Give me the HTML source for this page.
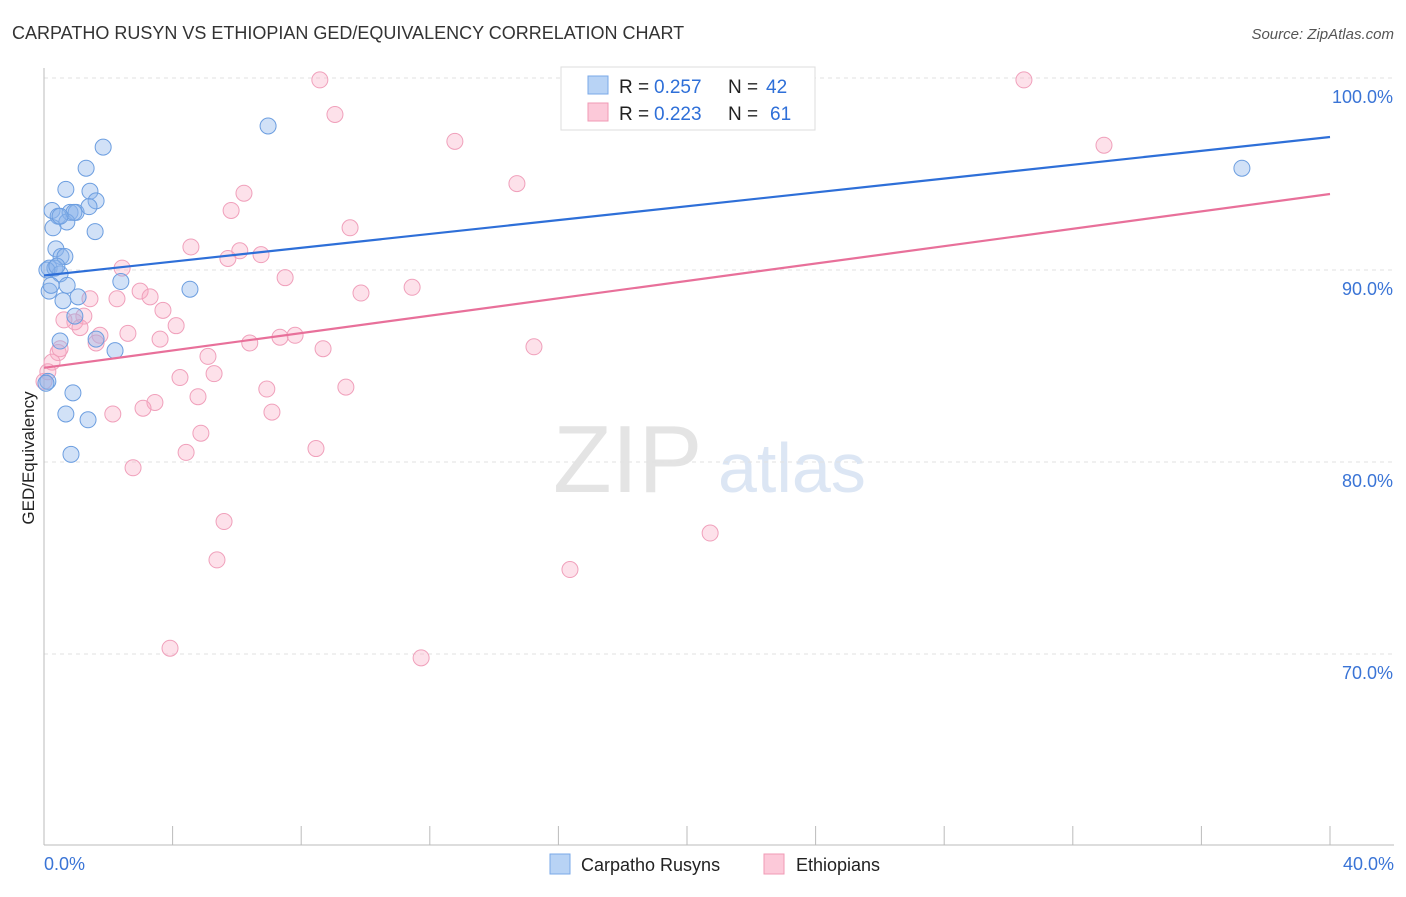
<!DOCTYPE html>
<html><head><meta charset="utf-8"><style>
body{margin:0;background:#fff;font-family:"Liberation Sans",sans-serif;}
svg text{font-family:"Liberation Sans",sans-serif;}
</style></head><body>
<svg width="1406" height="892" xmlns="http://www.w3.org/2000/svg">
<text x="12" y="39" font-size="18" fill="#333">CARPATHO RUSYN VS ETHIOPIAN GED/EQUIVALENCY CORRELATION CHART</text>
<text x="1394" y="39" font-size="15" fill="#555" text-anchor="end" font-style="italic">Source: ZipAtlas.com</text>
<text x="553" y="492" font-size="96" fill="#e4e4e4" font-family="Liberation Serif">ZIP</text>
<text x="718" y="492" font-size="70" fill="#dce6f4">atlas</text>
<g id="grid"></g>
<g id="axes"></g>
<g id="pts"></g>
<g id="lines"></g>
<text transform="translate(34,458) rotate(-90)" font-size="17" fill="#222" text-anchor="middle">GED/Equivalency</text>
<text x="44" y="870" font-size="18" fill="#3a74d6">0.0%</text>
<text x="1394" y="870" font-size="18" fill="#3a74d6" text-anchor="end">40.0%</text>
<g>
<rect x="561" y="67" width="254" height="63" fill="#fff" stroke="#ddd"/>
<rect x="588" y="76" width="20" height="18" fill="#b8d3f5" stroke="#7aa8e8"/>
<rect x="588" y="103" width="20" height="18" fill="#fcc9d9" stroke="#f09ab5"/>
<text x="619" y="93" font-size="19" fill="#222">R =</text>
<text x="654" y="93" font-size="19" fill="#2e6fd8">0.257</text>
<text x="728" y="93" font-size="19" fill="#222">N =</text>
<text x="766" y="93" font-size="19" fill="#2e6fd8">42</text>
<text x="619" y="120" font-size="19" fill="#222">R =</text>
<text x="654" y="120" font-size="19" fill="#2e6fd8">0.223</text>
<text x="728" y="120" font-size="19" fill="#222">N =</text>
<text x="770" y="120" font-size="19" fill="#2e6fd8">61</text>
</g>
<g>
<rect x="550" y="854" width="20" height="20" fill="#b8d3f5" stroke="#7aa8e8"/>
<text x="581" y="871" font-size="18" fill="#222">Carpatho Rusyns</text>
<rect x="764" y="854" width="20" height="20" fill="#fcc9d9" stroke="#f09ab5"/>
<text x="796" y="871" font-size="18" fill="#222">Ethiopians</text>
</g>
</svg>
<script>
const yTicks=[100,90,80,70];
const yTickLabels=["100.0%","90.0%","80.0%","70.0%"];
const blueX=[1.84,6.97,1.31,0.68,1.43,1.62,0.25,0.44,0.81,1.0,1.4,0.71,0.28,1.59,0.37,0.53,0.65,0.16,0.34,0.5,0.16,0.59,0.72,1.06,2.39,4.54,0.96,0.5,1.62,2.21,0.12,0.9,0.68,1.37,0.84,37.26,0.09,0.22,0.40,0.93,0.50,0.06];
const blueY=[96.4,97.5,95.3,94.2,94.1,93.6,93.1,92.8,93.0,93.0,93.3,92.5,92.2,92.0,91.1,90.7,90.7,90.1,90.1,89.8,88.9,88.4,89.2,88.6,89.4,89.0,87.6,86.3,86.4,85.8,84.2,83.6,82.5,82.2,80.4,95.3,90.0,89.2,90.2,93.0,92.8,84.1];
const pinkX=[8.58,30.48,9.05,12.78,32.97,14.71,6.22,5.82,9.52,4.57,6.09,6.75,5.72,2.43,7.5,2.99,3.3,9.86,11.45,1.43,2.27,3.7,1.24,0.96,0.62,4.11,1.12,1.74,2.61,3.61,1.62,6.4,7.34,7.81,8.68,15.24,0.44,0.25,5.1,4.23,5.29,6.93,9.39,3.45,3.08,4.79,2.14,7.09,4.88,4.42,8.46,2.77,5.6,20.72,5.38,16.36,3.92,11.73,0.12,0.0,0.50];
const pinkY=[99.9,99.9,98.1,96.7,96.5,94.5,94.0,93.1,92.2,91.2,91.0,90.8,90.6,90.1,89.6,88.9,88.6,88.8,89.1,88.5,88.5,87.9,87.6,87.3,87.4,87.1,87.0,86.6,86.7,86.4,86.2,86.2,86.5,86.6,85.9,86.0,85.7,85.2,85.5,84.4,84.6,83.8,83.9,83.1,82.8,83.4,82.5,82.6,81.5,80.5,80.7,79.7,76.9,76.3,74.9,74.4,70.3,69.8,84.7,84.2,85.9];
const X=v=>44+v/40*1286, Y=v=>78+(100-v)*19.2;
const NS="http://www.w3.org/2000/svg";
function mk(t,a,p){const e=document.createElementNS(NS,t);for(const k in a)e.setAttribute(k,a[k]);document.getElementById(p).appendChild(e);return e;}
yTicks.forEach((t,i)=>{
 const l=mk('line',{x1:44,x2:1394,y1:Y(t),y2:Y(t),stroke:'#e2e2e2','stroke-dasharray':'4,4'},'grid');
 
 
 const tx=mk('text',{x:1393,y:Y(t)+25,'font-size':18,fill:'#3a74d6','text-anchor':'end'},'grid');
 tx.textContent=yTickLabels[i];
 
 
});
let a=mk('line',{x1:44,x2:44,y1:68,y2:845,stroke:'#bbb'},'axes');


a=mk('line',{x1:44,x2:1394,y1:845,y2:845,stroke:'#bbb'},'axes');


for(let i=0;i<=10;i++){const tk=mk('line',{x1:X(i*4),x2:X(i*4),y1:826,y2:845,stroke:'#bbb'},'axes');
 
 }
function pts(xs,ys,fill,stroke,name){xs.forEach((x,i)=>{const c=mk('circle',{cx:X(x),cy:Y(ys[i]),r:8,fill:fill,stroke:stroke,'stroke-width':1},'pts');
 
 });}
pts(pinkX,pinkY,'rgba(248,170,195,0.35)','#f0a0bb','ethiopian-point');
pts(blueX,blueY,'rgba(140,180,235,0.4)','#6c9ee0','carpatho-rusyn-point');
function fit(xs,ys,col,name){const n=xs.length,mx=xs.reduce((s,v)=>s+v,0)/n,my=ys.reduce((s,v)=>s+v,0)/n;let sxy=0,sxx=0;xs.forEach((x,i)=>{sxy+=(x-mx)*(ys[i]-my);sxx+=(x-mx)**2;});const b=sxy/sxx,a0=my-b*mx;
 const l=mk('line',{x1:X(0),y1:Y(a0),x2:X(40),y2:Y(a0+b*40),stroke:col,'stroke-width':2.2},'lines');
 
 }
fit(blueX,blueY,'#2e6fd8','carpatho-rusyn-trendline');
fit(pinkX,pinkY,'#e8709a','ethiopian-trendline');
</script>
</body></html>
